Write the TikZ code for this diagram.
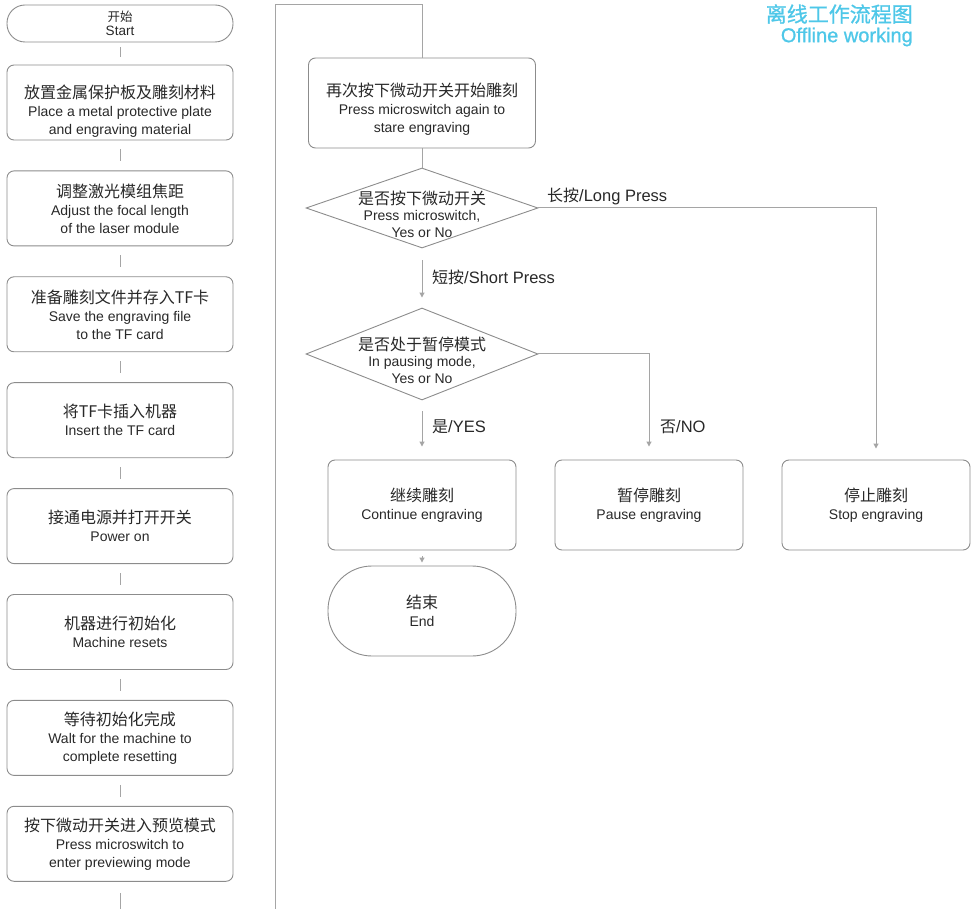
\documentclass[tikz,border=0pt]{standalone}
\usepackage{fontspec}
\setmainfont{Liberation Sans}
\newfontfamily\cjk{Noto Sans CJK SC}
\newfontfamily\cjktitle{Noto Sans CJK SC}[FakeBold=1]
\newfontfamily\entitle{Liberation Sans}[FakeBold=1]
\usetikzlibrary{arrows.meta,shapes.geometric,positioning}

\definecolor{linegray}{RGB}{165,165,165}
\definecolor{boxgray}{RGB}{140,140,140}
\definecolor{textdark}{RGB}{40,40,40}
\definecolor{titleblue}{RGB}{78,199,232}

\newcommand{\zhtext}[1]{{\cjk\fontsize{16}{18}\selectfont #1}}

\begin{document}
\begin{tikzpicture}[x=1pt,y=-1pt]

\def\colx{120}
\def\ytop{102.5}
\def\pitch{105.9}
\def\midx{422}

\tikzset{stepbox/.style = {draw=boxgray, line width=0.9pt, rounded corners=7pt, minimum width=226pt, minimum height=75pt, inner sep=0pt, align=center, text=textdark, font=\fontsize{14}{18}\selectfont}}
\tikzset{startbox/.style = {stepbox, minimum height=37pt, rounded corners=18pt, font=\fontsize{13.5}{13.5}\selectfont}}
\tikzset{resbox/.style = {stepbox, minimum width=188pt, minimum height=90pt}}
\tikzset{endbox/.style = {resbox, rounded corners=44pt}}
\tikzset{testbox/.style = {draw=boxgray, line width=0.9pt, diamond, minimum width=232pt, minimum height=80pt, inner sep=0pt}}
\tikzset{testtext/.style = {align=center, text=textdark, inner sep=0pt, font=\fontsize{14}{16.5}\selectfont}}
\tikzset{link/.style = {draw=linegray, line width=1pt, shorten <=9pt, shorten >=9pt}}
\tikzset{flow/.style = {draw=linegray, line width=1pt, -{Triangle[length=5pt,width=5pt]}}}
\tikzset{tag/.style = {anchor=west, text=textdark, inner sep=0pt, font=\fontsize{16.5}{18}\selectfont}}

\useasboundingbox (0,0) rectangle (975,909);

% title
\node[anchor=east, text=titleblue, inner sep=0pt, font=\cjktitle\fontsize{21}{21}\selectfont] (T1) at (913,14) {离线工作流程图};
\node[anchor=east, text=titleblue, inner sep=0pt, font=\entitle\fontsize{20}{20}\selectfont] (T2) at (913,37) {Offline working};

% left column
\node[startbox] (S0) at (\colx,23.5) {{\cjk\fontsize{12.5}{13.5}\selectfont 开始}\\Start};
\node[stepbox] (S1) at (\colx,\ytop) {\rule{0pt}{30pt}\zhtext{放置金属保护板及雕刻材料}\\Place a metal protective plate\\and engraving material};
\node[stepbox] (S2) at (\colx,\ytop+\pitch) {\zhtext{调整激光模组焦距}\\Adjust the focal length\\of the laser module};
\node[stepbox] (S3) at (\colx,\ytop+2*\pitch) {\zhtext{准备雕刻文件并存入TF卡}\\Save the engraving file\\to the TF card};
\node[stepbox] (S4) at (\colx,\ytop+3*\pitch) {\zhtext{将TF卡插入机器}\\Insert the TF card};
\node[stepbox] (S5) at (\colx,\ytop+4*\pitch) {\zhtext{接通电源并打开开关}\\Power on};
\node[stepbox] (S6) at (\colx,\ytop+5*\pitch) {\zhtext{机器进行初始化}\\Machine resets};
\node[stepbox] (S7) at (\colx,\ytop+6*\pitch) {\zhtext{等待初始化完成}\\Walt for the machine to\\complete resetting};
\node[stepbox] (S8) at (\colx,\ytop+7*\pitch) {\zhtext{按下微动开关进入预览模式}\\Press microswitch to\\enter previewing mode};

\draw[link, shorten <=5pt, shorten >=8pt] (S0) -- (S1);
\draw[link] (S1) -- (S2);
\draw[link] (S2) -- (S3);
\draw[link] (S3) -- (S4);
\draw[link] (S4) -- (S5);
\draw[link] (S5) -- (S6);
\draw[link] (S6) -- (S7);
\draw[link] (S7) -- (S8);

\coordinate (L0) at (\colx,909);
\draw[link, shorten <=11pt, shorten >=0pt] (S8) -- (L0);

% right column
\node[stepbox, minimum width=227pt, minimum height=90pt] (R1) at (\midx,103) {\rule{0pt}{25pt}\zhtext{再次按下微动开关开始雕刻}\\Press microswitch again to\\stare engraving};

\coordinate (P0) at (275,909);
\coordinate (P1) at (275,5);
\draw[draw=linegray, line width=1pt] (P0) -- (P1) -| (R1.north);

\node[testbox] (D1) at (\midx,208) {};
\node[testtext, yshift=-6pt] (D1t) at (D1) {\zhtext{是否按下微动开关}\\Press microswitch,\\Yes or No};
\node[testbox, minimum height=92pt] (D2) at (\midx,354) {};
\node[testtext, yshift=-6pt] (D2t) at (D2) {\zhtext{是否处于暂停模式}\\In pausing mode,\\Yes or No};

\node[resbox] (B1) at (\midx,505) {\zhtext{继续雕刻}\\Continue engraving};
\node[resbox] (B2) at (649,505) {\zhtext{暂停雕刻}\\Pause engraving};
\node[resbox] (B3) at (876,505) {\zhtext{停止雕刻}\\Stop engraving};
\node[endbox] (E1) at (\midx,611) {\zhtext{结束}\\End};

\draw[draw=linegray, line width=1pt] (R1) -- (D1);
\draw[flow, shorten <=12pt, shorten >=10pt] (D1) -- (D2);
\draw[flow, shorten >=11pt] (D1.east) -| (B3.north);
\draw[flow, shorten <=11pt, shorten >=13pt] (D2) -- (B1);
\draw[flow, shorten >=13pt] (D2.east) -| (B2.north);
\draw[flow, shorten <=6pt, shorten >=3pt] (B1) -- (E1);

\node[tag] (G1) at (547,196) {\zhtext{长按}/Long Press};
\node[tag] (G2) at (432,277) {\zhtext{短按}/Short Press};
\node[tag] (G3) at (432,427) {\zhtext{是}/YES};
\node[tag] (G4) at (660,427) {\zhtext{否}/NO};

\end{tikzpicture}
\end{document}
